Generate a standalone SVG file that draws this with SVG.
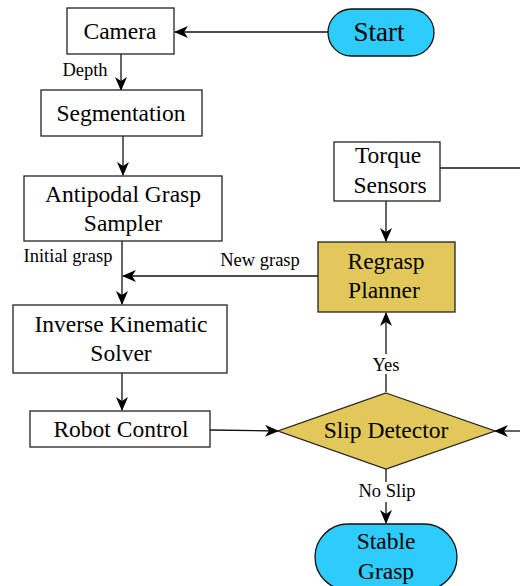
<svg xmlns="http://www.w3.org/2000/svg" width="520" height="586" viewBox="0 0 520 586">
<style>
.box{fill:#fff;stroke:#222;stroke-width:1.3}
.term{fill:#2ecbfd;stroke:#111;stroke-width:1.3}
.dec{fill:#e2c85a;stroke:#222;stroke-width:1.3}
.t{font-family:"Liberation Serif",serif;font-size:23.5px;fill:#000;text-anchor:middle}
.big{font-size:27px}
.lbl{font-family:"Liberation Serif",serif;font-size:18.5px;fill:#000;text-anchor:middle}
.c{fill:none;stroke:#111;stroke-width:1.3}
</style>
<defs>
<marker id="a" viewBox="0 0 14 12" refX="13" refY="6" markerWidth="14" markerHeight="12" markerUnits="userSpaceOnUse" orient="auto">
<path d="M0,0 L14,6 L0,12 L4,6 Z" fill="#000"/>
</marker>
</defs>
<rect width="520" height="586" fill="#fff"/>
<g id="connectors">
<line class="c" x1="328" y1="32" x2="175" y2="32" marker-end="url(#a)"/>
<line class="c" x1="121" y1="54" x2="121" y2="90" marker-end="url(#a)"/>
<line class="c" x1="123" y1="136" x2="123" y2="175" marker-end="url(#a)"/>
<line class="c" x1="122" y1="241" x2="122" y2="304" marker-end="url(#a)"/>
<line class="c" x1="318" y1="276" x2="123" y2="276" marker-end="url(#a)"/>
<line class="c" x1="386" y1="201" x2="386" y2="241" marker-end="url(#a)"/>
<line class="c" x1="440" y1="168" x2="520" y2="168"/>
<line class="c" x1="122" y1="373" x2="122" y2="410" marker-end="url(#a)"/>
<line class="c" x1="210" y1="430" x2="278" y2="431" marker-end="url(#a)"/>
<line class="c" x1="520" y1="431" x2="495" y2="431" marker-end="url(#a)"/>
<line class="c" x1="386" y1="392" x2="386" y2="313" marker-end="url(#a)"/>
<line class="c" x1="386" y1="468" x2="386" y2="523" marker-end="url(#a)"/>
<text class="lbl" x="85" y="76">Depth</text>
<text class="lbl" x="68" y="262">Initial grasp</text>
<text class="lbl" x="260" y="266">New grasp</text>
<rect x="366" y="354" width="40" height="20" fill="#fff"/>
<text class="lbl" x="386" y="371">Yes</text>
<rect x="352" y="482" width="70" height="20" fill="#fff"/>
<text class="lbl" x="387" y="497">No Slip</text>
</g>
<g id="start">
<rect class="term" x="328" y="9" width="106" height="47" rx="23.5"/>
<text class="t big" x="379" y="41">Start</text>
</g>
<g id="camera">
<rect class="box" x="67" y="8" width="107" height="46"/>
<text class="t" x="120" y="39">Camera</text>
</g>
<g id="segmentation">
<rect class="box" x="41" y="90" width="161" height="46"/>
<text class="t" x="121" y="121">Segmentation</text>
</g>
<g id="sampler">
<rect class="box" x="24" y="176" width="198" height="65"/>
<text class="t" x="123" y="202">Antipodal Grasp</text>
<text class="t" x="123" y="231">Sampler</text>
</g>
<g id="torque">
<rect class="box" x="334" y="142" width="106" height="59"/>
<text class="t" x="388" y="163">Torque</text>
<text class="t" x="390" y="193">Sensors</text>
</g>
<g id="regrasp">
<rect class="dec" x="318" y="242" width="137" height="70"/>
<text class="t" x="386" y="269">Regrasp</text>
<text class="t" x="384" y="298">Planner</text>
</g>
<g id="ik">
<rect class="box" x="13" y="305" width="214" height="68"/>
<text class="t" x="121" y="332">Inverse Kinematic</text>
<text class="t" x="121" y="361">Solver</text>
</g>
<g id="robot">
<rect class="box" x="30" y="411" width="180" height="36"/>
<text class="t" x="121" y="437">Robot Control</text>
</g>
<g id="slip">
<polygon class="dec" points="386,393 495,431 386,469 278,431"/>
<text class="t" x="386" y="438">Slip Detector</text>
</g>
<g id="stable">
<rect class="term" x="315" y="524" width="142" height="66" rx="33"/>
<text class="t" x="386" y="549">Stable</text>
<text class="t" x="386" y="579">Grasp</text>
</g>
</svg>
